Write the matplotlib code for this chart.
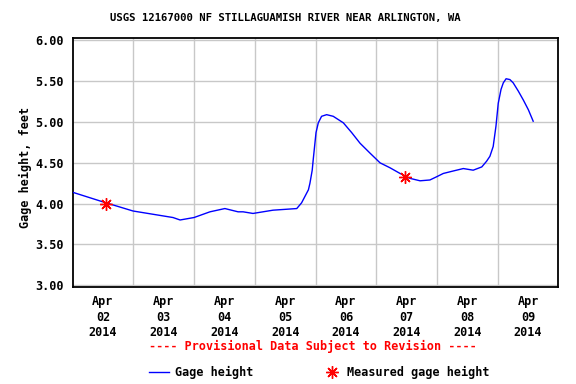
"""
plot.py
-------
USGS gage height plot, NF Stillaguamish River near Arlington, WA (Apr 2-9 2014).
Saves out.png (576x384).
"""
import numpy as np
import matplotlib
matplotlib.use("Agg")
import matplotlib.pyplot as plt
from matplotlib.lines import Line2D

# ── data (hours since 2014-04-02 00:00, gage height ft) ──────────────────────
hours = [0.0, 12.2, 23.9, 31.8, 39.7, 42.5, 48.0, 54.3, 60.2, 65.4,
         67.4, 71.3, 79.2, 88.6, 90.5, 93.2, 93.8, 94.7, 95.1, 96.2,
         97.1, 98.4, 100.4, 103.0, 107.0, 110.3, 113.6, 117.5, 121.5, 125.4,
         129.4, 133.3, 137.3, 141.2, 143.9, 146.5, 150.4, 154.4, 158.3, 161.7,
         163.6, 164.9, 166.2, 167.3, 168.2, 169.3, 170.2, 171.3, 172.8, 174.1,
         176.1, 178.1, 180.1, 182.0]
gage = [4.14, 4.02, 3.91, 3.87, 3.83, 3.80, 3.83, 3.90, 3.94, 3.90,
        3.90, 3.88, 3.92, 3.94, 4.01, 4.17, 4.25, 4.41, 4.54, 4.87,
        4.99, 5.07, 5.09, 5.07, 4.99, 4.87, 4.74, 4.62, 4.50, 4.44,
        4.37, 4.31, 4.28, 4.29, 4.33, 4.37, 4.40, 4.43, 4.41, 4.45,
        4.52, 4.58, 4.70, 4.95, 5.23, 5.40, 5.48, 5.53, 5.52, 5.48,
        5.38, 5.27, 5.15, 5.01]

meas_hours = [13.2, 131.5]
meas_gage  = [4.00, 4.33]

day_labels = ["Apr\n02\n2014", "Apr\n03\n2014", "Apr\n04\n2014", "Apr\n05\n2014",
              "Apr\n06\n2014", "Apr\n07\n2014", "Apr\n08\n2014", "Apr\n09\n2014"]
y_ticks = [3.0, 3.5, 4.0, 4.5, 5.0, 5.5, 6.0]

MONO = "DejaVu Sans Mono"
plt.rcParams["font.family"] = MONO
plt.rcParams["font.weight"] = "bold"

fig = plt.figure(figsize=(5.76, 3.84), dpi=100)
ax = fig.add_axes([0.1259, 0.2526, 0.8437, 0.6484])

# ── series ───────────────────────────────────────────────────────────────────
ax.plot(hours, gage, color="#0000ff", lw=1.0, zorder=3)
ax.plot(meas_hours, meas_gage, ls="none", marker=(8, 2, 0), ms=9,
        mec="#ff0000", mew=1.0, zorder=4)

# ── axes ─────────────────────────────────────────────────────────────────────
ax.set_xlim(0, 192)
ax.set_ylim(2.979, 6.029)
ax.set_xticks(np.arange(24, 192, 24))
ax.set_xticklabels([])
ax.set_xticks(np.arange(12, 192, 24), minor=True)
ax.set_xticklabels(day_labels, minor=True, fontsize=8.5, fontweight="bold",
                   linespacing=1.25)
ax.set_yticks(y_ticks)
ax.set_yticklabels([f"{v:.2f}" for v in y_ticks], fontsize=8.5, fontweight="bold")
ax.tick_params(axis="both", which="both", length=0)
ax.tick_params(axis="x", which="minor", pad=6)
ax.tick_params(axis="y", pad=6)
ax.grid(True, which="major", color="#c8c8c8", lw=1.0)
ax.set_axisbelow(True)
for s in ax.spines.values():
    s.set_linewidth(1.3)
ax.set_ylabel("Gage height, feet", fontsize=8.5, fontweight="bold", labelpad=3)
ax.yaxis.set_label_coords(-0.084, 0.48)

fig.text(0.496, 0.953, "USGS 12167000 NF STILLAGUAMISH RIVER NEAR ARLINGTON, WA",
         ha="center", va="center", fontsize=7.7, fontweight="bold")
fig.text(0.544, 0.099, "---- Provisional Data Subject to Revision ----",
         ha="center", va="center", fontsize=8.5, fontweight="bold", color="#ff0000")

# ── legend (drawn by hand, USGS style) ───────────────────────────────────────
ly = 1 - 372 / 384
fig.add_artist(Line2D([149 / 576, 169 / 576], [ly, ly], color="#0000ff", lw=1.0,
                      transform=fig.transFigure))
fig.text(175 / 576, ly, "Gage height", ha="left", va="center", fontsize=8.5,
         fontweight="bold")
fig.add_artist(Line2D([332 / 576], [ly], ls="none", marker=(8, 2, 0), ms=9,
                      mec="#ff0000", mew=1.0, transform=fig.transFigure))
fig.text(347 / 576, ly, "Measured gage height", ha="left", va="center",
         fontsize=8.5, fontweight="bold")

fig.savefig("out.png", dpi=100)
plt.close()
